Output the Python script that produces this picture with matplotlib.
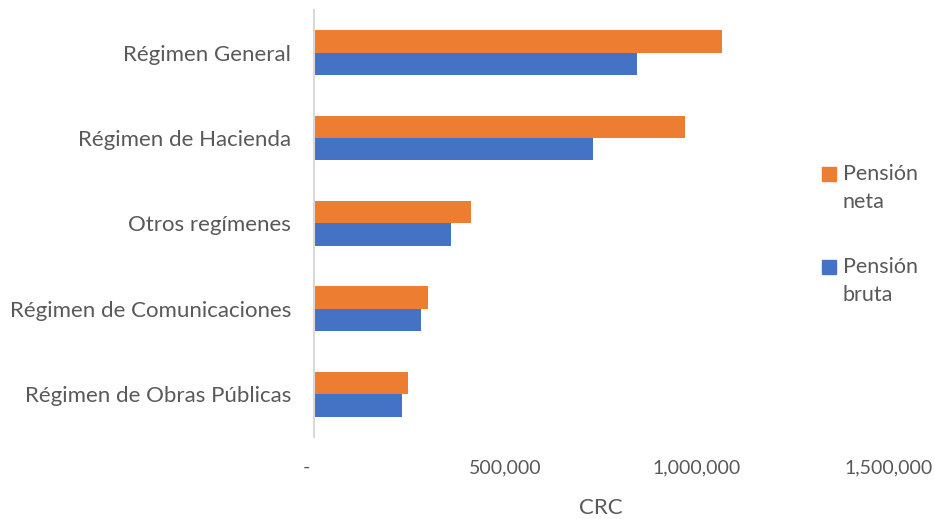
import numpy as np
import matplotlib.pyplot as plt
from matplotlib.patches import Rectangle
from matplotlib.ticker import FuncFormatter

# Datos (CRC)
regimenes = ["Régimen General", "Régimen de Hacienda", "Otros regímenes",
             "Régimen de Comunicaciones", "Régimen de Obras Públicas"]
pension_neta = [1067000, 970000, 411000, 299000, 246000]
pension_bruta = [843000, 730000, 358000, 281000, 230000]
ticks_x = [0, 500000, 1000000, 1500000]
series = ["Pensión\nneta", "Pensión\nbruta"]

color_neta = "#ED7D31"
color_bruta = "#4472C4"
gris = "#595959"

plt.rcParams['font.family'] = ['Lato', 'DejaVu Sans']

fig = plt.figure(figsize=(9.34, 5.19), dpi=100)
ax = fig.add_axes([0.336, 0.158, 0.615, 0.823])

y = np.arange(len(regimenes))
h = 0.262
ax.barh(y - h / 2, pension_neta, height=h, color=color_neta)
ax.barh(y + h / 2, pension_bruta, height=h, color=color_bruta)

ax.set_ylim(len(regimenes) - 0.5, -0.5)
ax.set_xlim(0, 1500000)
ax.set_yticks(y)
ax.set_yticklabels(regimenes, fontsize=16, color=gris)
ax.set_xticks(ticks_x)
ax.xaxis.set_major_formatter(FuncFormatter(lambda v, p: "-   " if v == 0 else f"{int(v):,}"))
ax.tick_params(axis='x', labelsize=14, labelcolor=gris, length=0, pad=16)
ax.tick_params(axis='y', length=0, pad=16.5)
ax.set_xlabel("CRC", fontsize=16, color=gris, labelpad=16)

for s in ['top', 'right', 'bottom']:
    ax.spines[s].set_visible(False)
ax.spines['left'].set_color("#D9D9D9")
ax.spines['left'].set_linewidth(1.5)

# leyenda a mano: cuadrado alineado con la primera línea del texto
W, H = 934, 519
for i, (lab, col) in enumerate(zip(series, [color_neta, color_bruta])):
    yc = 174 + i * 93
    fig.patches.append(Rectangle((822 / W, 1 - (yc + 7) / H), 14 / W, 14 / H,
                                 color=col, transform=fig.transFigure))
    fig.text(843 / W, 1 - (yc - 10) / H, lab, fontsize=15.5, color=gris,
             va='top', ha='left', linespacing=1.5)

fig.savefig("out.png", dpi=100)
